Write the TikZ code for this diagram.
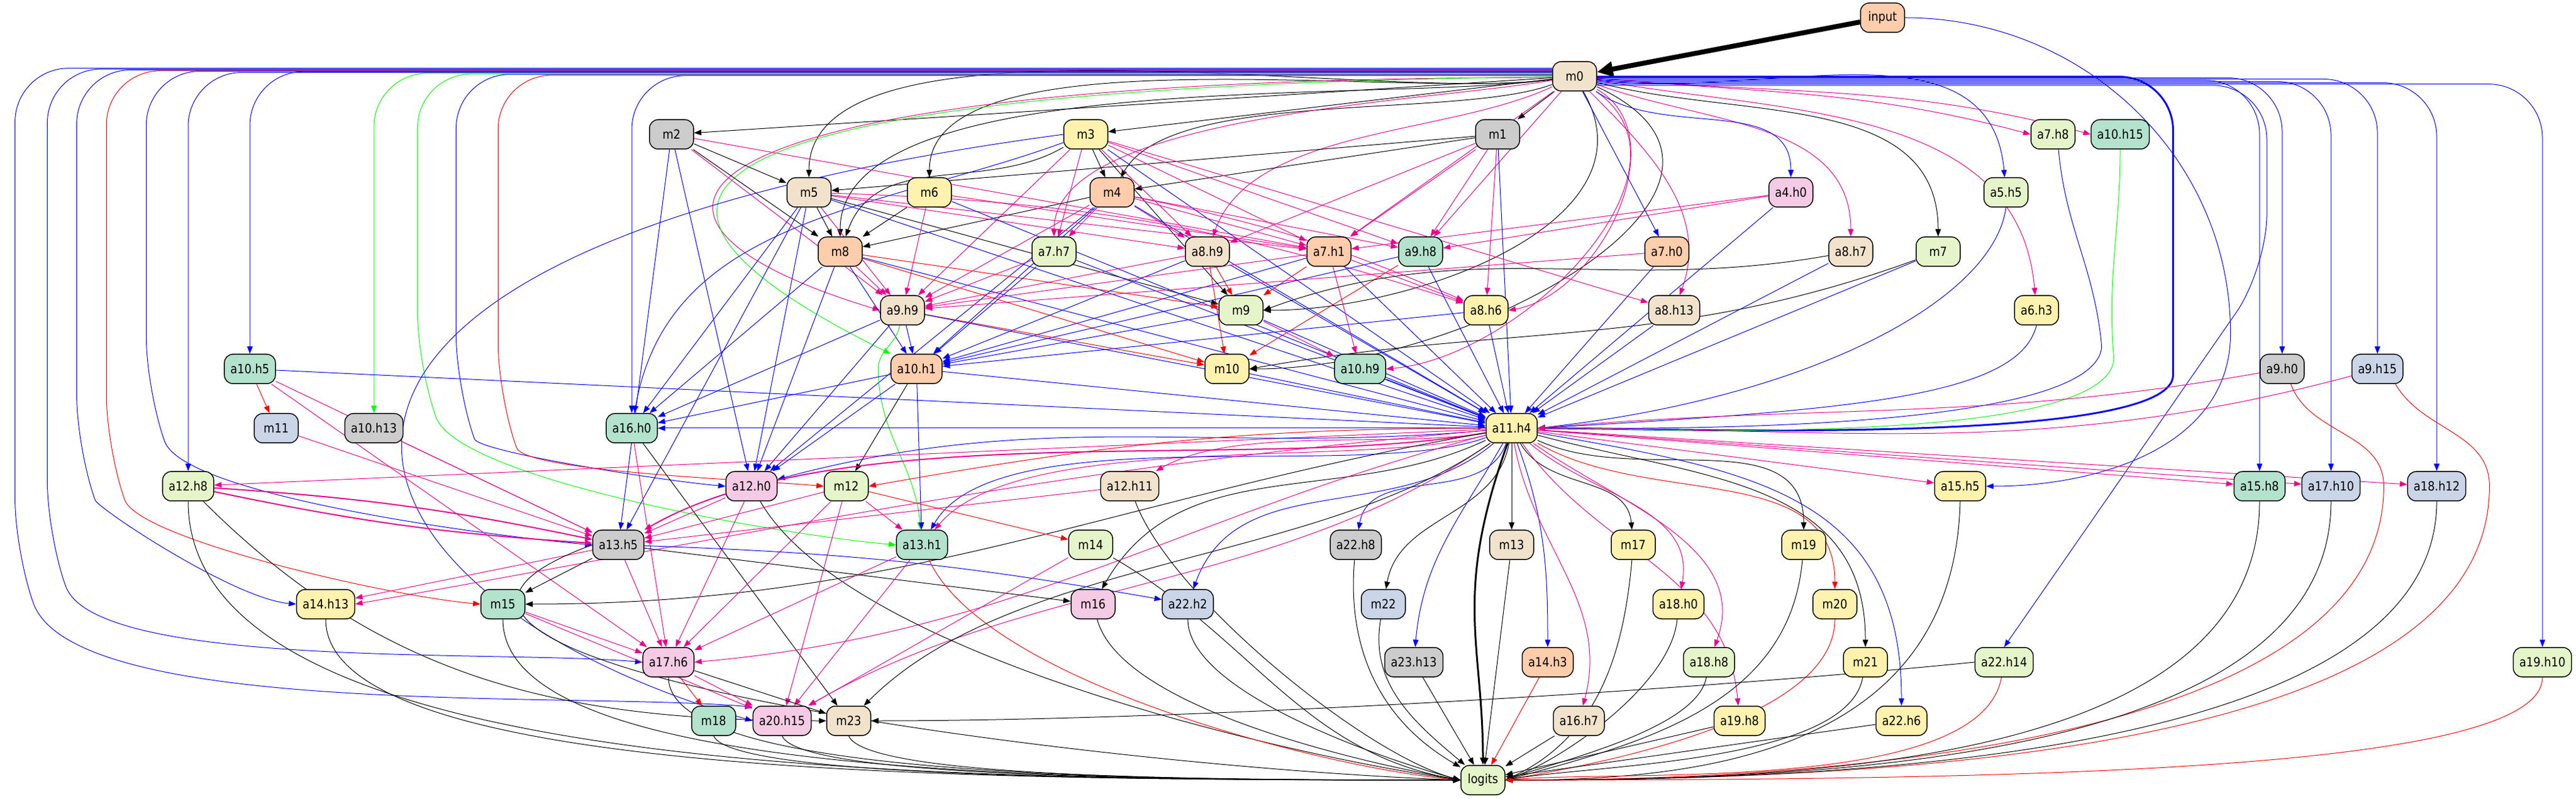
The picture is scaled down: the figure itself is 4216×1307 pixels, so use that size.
\documentclass[tikz,border=0pt]{standalone}
\usepackage{fontspec}
\newfontfamily\nfont{DejaVu Sans}[FakeStretch=0.88]
\usetikzlibrary{arrows.meta,backgrounds}
\definecolor{cmint}{HTML}{B3E2CD}
\definecolor{cpeach}{HTML}{FDCDAC}
\definecolor{cblue}{HTML}{CBD5E8}
\definecolor{cpink}{HTML}{F4CAE4}
\definecolor{cgreen}{HTML}{E6F5C9}
\definecolor{cyel}{HTML}{FFF2AE}
\definecolor{cbeige}{HTML}{F1E2CC}
\definecolor{cgrey}{HTML}{CCCCCC}
\newcommand{\bx}[5]{\node[box,fill=#4] (#1) at (#2,#3) {#5};}
\tikzset{
  box/.style={draw,line width=0.375pt,rounded corners=3.5pt,minimum height=12pt,minimum width=18pt,
    inner xsep=2.5pt,inner ysep=0pt,font=\nfont\fontsize{5.2}{6}\selectfont},
  atip/.style={-{Triangle[length=3pt,width=2.25pt]}},
  eK/.style={atip,draw=black,line width=0.25pt},
  eB/.style={atip,draw=blue,line width=0.25pt},
  eM/.style={atip,draw=magenta,line width=0.25pt},
  eR/.style={atip,draw=red,line width=0.25pt},
  eG/.style={atip,draw=green,line width=0.25pt},
  bnd/.style={rounded corners=22pt},
}
\begin{document}
\begin{tikzpicture}[x=0.25pt,y=0.25pt]
\useasboundingbox (0,0) rectangle (4216,1307);
% rows from top to bottom
\bx{input}{3081}{1278}{cpeach}{input}
\bx{m0}{2577}{1182}{cbeige}{m0}
\bx{m2}{1099}{1087}{cgrey}{m2}      \bx{m3}{1777}{1087}{cyel}{m3}     \bx{m1}{2451}{1087}{cgrey}{m1}
\bx{a7h8}{3360}{1087}{cgreen}{a7.h8} \bx{a10h15}{3470}{1087}{cmint}{a10.h15}
\bx{m5}{1324}{992}{cbeige}{m5}      \bx{m6}{1521}{992}{cyel}{m6}      \bx{m4}{1820}{992}{cpeach}{m4}
\bx{a4h0}{2931}{992}{cpink}{a4.h0}  \bx{a5h5}{3283}{992}{cgreen}{a5.h5}
\bx{m8}{1375}{895}{cpeach}{m8}      \bx{a7h7}{1725}{895}{cgreen}{a7.h7} \bx{a8h9}{1976}{895}{cbeige}{a8.h9}
\bx{a7h1}{2175}{895}{cpeach}{a7.h1} \bx{a9h8}{2325}{895}{cmint}{a9.h8}  \bx{a7h0}{2728}{895}{cpeach}{a7.h0}
\bx{a8h7}{3029}{895}{cbeige}{a8.h7} \bx{m7}{3172}{895}{cgreen}{m7}
\bx{a9h9}{1477}{799}{cbeige}{a9.h9} \bx{m9}{2031}{799}{cgreen}{m9}     \bx{a8h6}{2432}{799}{cyel}{a8.h6}
\bx{a8h13}{2740}{799}{cbeige}{a8.h13} \bx{a6h3}{3333}{799}{cyel}{a6.h3}
\bx{a10h5}{409}{703}{cmint}{a10.h5} \bx{a10h1}{1500}{703}{cpeach}{a10.h1} \bx{m10}{2008}{703}{cyel}{m10}
\bx{a10h9}{2226}{703}{cmint}{a10.h9} \bx{a9h0}{3735}{703}{cgrey}{a9.h0} \bx{a9h15}{3891}{703}{cblue}{a9.h15}
\bx{m11}{452}{606}{cblue}{m11}      \bx{a10h13}{612}{606}{cgrey}{a10.h13} \bx{a16h0}{1034}{606}{cmint}{a16.h0}
\bx{a11h4}{2474}{606}{cyel}{a11.h4}
\bx{a12h8}{308}{511}{cgreen}{a12.h8} \bx{a12h0}{1230}{511}{cpink}{a12.h0} \bx{m12}{1385}{511}{cgreen}{m12}
\bx{a12h11}{1849}{511}{cbeige}{a12.h11} \bx{a15h5}{3208}{511}{cyel}{a15.h5} \bx{a15h8}{3698}{511}{cmint}{a15.h8}
\bx{a17h10}{3815}{511}{cblue}{a17.h10} \bx{a18h12}{3988}{511}{cblue}{a18.h12}
\bx{a13h5}{1012}{415}{cgrey}{a13.h5} \bx{a13h1}{1509}{415}{cmint}{a13.h1} \bx{m14}{1785}{415}{cgreen}{m14}
\bx{a22h8}{2219}{415}{cgrey}{a22.h8} \bx{m13}{2474}{415}{cbeige}{m13}   \bx{m17}{2673}{415}{cyel}{m17}
\bx{m19}{2952}{415}{cyel}{m19}
\bx{a14h13}{533}{318}{cyel}{a14.h13} \bx{m15}{823}{318}{cmint}{m15}    \bx{m16}{1789}{318}{cpink}{m16}
\bx{a22h2}{1944}{318}{cblue}{a22.h2} \bx{m22}{2264}{318}{cblue}{m22}   \bx{a18h0}{2747}{318}{cyel}{a18.h0}
\bx{m20}{3003}{318}{cyel}{m20}
\bx{a17h6}{1094}{223}{cpink}{a17.h6} \bx{a23h13}{2314}{223}{cgrey}{a23.h13} \bx{a14h3}{2533}{223}{cpeach}{a14.h3}
\bx{a18h8}{2797}{223}{cgreen}{a18.h8} \bx{m21}{3053}{223}{cyel}{m21}   \bx{a22h14}{3280}{223}{cgreen}{a22.h14}
\bx{a19h10}{4161}{223}{cgreen}{a19.h10}
\bx{m18}{1168}{127}{cmint}{m18}     \bx{a20h15}{1280}{127}{cpink}{a20.h15} \bx{m23}{1389}{127}{cbeige}{m23}
\bx{a16h7}{2584}{127}{cbeige}{a16.h7} \bx{a19h8}{2847}{127}{cyel}{a19.h8} \bx{a22h6}{3112}{127}{cyel}{a22.h6}
\bx{logits}{2427}{30}{cgreen}{logits}

\begin{scope}[on background layer]
\fill[white] (0,0) rectangle (4216,1307);
% input
\draw[eK,line width=2pt,-{Triangle[length=6.5pt,width=6pt]}] (input) -- (m0);
\draw[eB] (input.east) to[out=0,in=90] ([shift={(400,250)}]a15h5.east) to[out=-90,in=0] (a15h5.east);
% m0 to mlps
\foreach \tg in {m1,m2,m3} \draw[eK] (m0) -- (\tg);
\draw[eK] (m0) to[out=200,in=60,looseness=.6] (m4);
\foreach \tg in {m5,m6,m8} \draw[eK] (m0) to[out=188,in=90,looseness=.6] (\tg.north);
\draw[eK] (m0) to[out=-15,in=90] (m7);
\draw[eK] (m0) to[out=-60,in=0] (m9.east);
\draw[eK] (m0) to[out=-25,in=0,looseness=1.3] (m10.east);
% m0 to heads
\foreach \tg in {a7h8,a10h15} \draw[eM] (m0) to[out=-5,in=165] (\tg.west);
\draw[eM] (m0) to[out=-20,in=90] (a8h7);
\draw[eM] (m0) to[out=-10,in=95] (a6h3);
\draw[eM] (m0) to[out=-30,in=10] (a8h6.east);
\draw[eM] (m0) to[out=-35,in=5] (a10h9.east);
\draw[eM] (m0) to[out=-45,in=70] (a8h13);
\foreach \tg in {a7h1,a9h8} \draw[eM] (m0) -- (\tg);
\draw[eM] (m0) to[out=205,in=70,looseness=.8] (a8h9);
\draw[eM] (m0) to[out=190,in=90,looseness=.6] (a7h7);
\draw[eM] (m0.183) .. controls +(-1500,0) and +(-500,150) .. (a9h9.west);
\draw[eB] (m0) to[out=-35,in=90] (a4h0);
\draw[eB] (m0) to[out=-8,in=95] (a5h5);
\draw[eB] (m0) -- (a7h0);
% m0 right bundle
\foreach \tg/\a in {a9h0/-4,a9h15/-7,a15h8/-10,a17h10/-13,a18h12/-16,a19h10/-19}
  \draw[eB,bnd] (m0.\a) -| (\tg.north);
\draw[eB,line width=.75pt,bnd] (m0.-1) -| ([shift={(1040,175)}]a11h4.east) to[out=-90,in=0,looseness=.5] (a11h4.east);
\draw[eB,bnd] (m0.-22) -| ([shift={(430,620)}]a22h14.north) -- (a22h14.north);
% m0 left bundle
\foreach \tg/\a in {a10h5/168,a12h8/170,a16h0/178} \draw[eB,bnd] (m0.\a) -| (\tg.north);
\draw[eG,bnd] (m0.172) -| (a10h13.north);
\draw[eB,bnd] (m0.160) -| ([shift={(-1207,275)}]a20h15.west) to[out=-70,in=175,looseness=.6] (a20h15.155);
\draw[eB,bnd] (m0.162) -| ([shift={(-974,207)}]a17h6.west) to[out=-70,in=175,looseness=.6] (a17h6.west);
\draw[eB,bnd] (m0.164) -| ([shift={(-359,253)}]a14h13.west) to[out=-70,in=175,looseness=.6] (a14h13.west);
\draw[eR,bnd] (m0.166) -| ([shift={(-612,253)}]m15.west) to[out=-70,in=175,looseness=.6] (m15.west);
\draw[eB,bnd] (m0.167) -| ([shift={(-730,252)}]a13h5.west) to[out=-70,in=175,looseness=.6] (a13h5.west);
\draw[eG,bnd] (m0.174) -| ([shift={(-783,292)}]a13h1.west) to[out=-70,in=175,looseness=.6] (a13h1.west);
\draw[eB,bnd] (m0.175) -| ([shift={(-441,160)}]a12h0.west) to[out=-70,in=175,looseness=.6] (a12h0.west);
\draw[eR,bnd] (m0.177) -| ([shift={(-533,146)}]m12.west) to[out=-70,in=175,looseness=.6] (m12.west);
\draw[eG] (m0.181) .. controls +(-1700,-20) and +(-400,200) .. (a10h1.north west);
% layer 0-6 mlps
\draw[eB] (m1) -- (a11h4);
\foreach \tg in {m4,m5} \draw[eK] (m1) -- (\tg);
\foreach \tg in {a7h1,a9h8,a8h9,a8h6} \draw[eM] (m1) -- (\tg);
\foreach \tg in {m5,m8} \draw[eK] (m2) -- (\tg);
\foreach \tg in {a9h9,a7h1} \draw[eM] (m2) -- (\tg);
\foreach \tg in {a12h0,a13h5} \draw[eB] (m2) -- (\tg);
\foreach \tg in {m4,m9} \draw[eK] (m3) -- (\tg);
\draw[eK] (m3) to[out=210,in=70] (m8);
\foreach \tg in {a7h7,a7h1,a9h8,a8h9,a8h13,a9h9} \draw[eM] (m3) -- (\tg);
\draw[eB] (m3) -- (a11h4);
\draw[eB] (m3) to[out=200,in=80] (a16h0);
\draw[eB] (m3.west) .. controls +(-1500,-200) and +(-700,200) .. (a20h15.west);
\draw[eK] (m4) -- (m8);
\foreach \tg in {a7h7,a8h9,a7h1,a9h8,a9h9} \draw[eM] (m4) -- (\tg);
\draw[eM] (m4) to[bend left=6] (a8h6);
\foreach \tg in {a11h4,a10h1,a12h0} \draw[eB] (m4) -- (\tg);
\foreach \tg in {m8,m9} \draw[eK] (m5) -- (\tg);
\foreach \tg in {a8h9,a9h9,a7h1} \draw[eM] (m5) -- (\tg);
\draw[eM] (m5) to[bend left=8] (a8h6);
\foreach \tg in {a16h0,a12h0,a13h5,a11h4} \draw[eB] (m5) -- (\tg);
\draw[eK] (m6) -- (m8);
\foreach \tg in {a9h9,a7h1} \draw[eM] (m6) -- (\tg);
\draw[eB] (m6) -- (a11h4);
\draw[eK] (m7) to[out=200,in=10] (m10.east);
\draw[eB] (m7) -- (a11h4);
\foreach \tg in {m9,m10} \draw[eR] (m8) -- (\tg);
\draw[eM] (m8) -- (a9h9);
\foreach \tg in {a10h1,a11h4,a12h0,a16h0} \draw[eB] (m8) -- (\tg);
% layer 4-8 heads
\foreach \tg in {a7h1,a9h8} \draw[eM] (a4h0) -- (\tg);
\draw[eB] (a4h0) -- (a11h4);
\draw[eB] (a5h5.south) .. controls +(-20,-150) and +(450,50) .. (a11h4.east);
\draw[eB] (a7h8.-70) to[out=-85,in=95] ([shift={(70,-60)}]a6h3.east) to[out=-95,in=0,looseness=.4] (a11h4.east);
\draw[eG] (a10h15) to[out=-90,in=95] ([shift={(90,-80)}]a6h3.east) to[out=-95,in=0,looseness=.4] (a11h4.east);
\draw[eB] (a6h3.south) .. controls +(-30,-120) and +(500,30) .. (a11h4.east);
\draw[eM] (a7h7) -- (a9h9);
\foreach \tg in {a10h1,a11h4} \draw[eB] (a7h7) -- (\tg);
\draw[eM] (a8h9) -- (a9h9);
\foreach \tg in {m9,m10} \draw[eR] (a8h9) -- (\tg);
\foreach \tg in {a10h1,a11h4} \draw[eB] (a8h9) -- (\tg);
\foreach \tg in {a9h9,a10h9,a8h6} \draw[eM] (a7h1) -- (\tg);
\draw[eR] (a7h1) -- (m9);
\foreach \tg in {a10h1,a11h4} \draw[eB] (a7h1) -- (\tg);
\foreach \tg in {a10h1,a11h4} \draw[eB] (a9h8) -- (\tg);
\draw[eR] (a9h8) -- (m10);
\draw[eM] (a7h0) -- (a9h9);
\draw[eB] (a7h0) -- (a11h4);
\draw[eK] (a8h7) to[out=190,in=20] (m9.east);
\draw[eB] (a8h7) -- (a11h4);
% layer 8-10
\draw[eR] (a9h9) -- (m10);
\foreach \tg in {a10h1,a11h4,a12h0,a16h0} \draw[eB] (a9h9) -- (\tg);
\draw[eG] (a9h9) to[out=-100,in=90] ([xshift=-5pt]a10h1.west) to[out=-90,in=95] (a13h1);
\foreach \tg in {a10h1,a11h4} \draw[eB] (m9) -- (\tg);
\draw[eM] (m9) -- (a10h9);
\foreach \tg in {a11h4,a10h1} \draw[eB] (a8h6) -- (\tg);
\draw[eB] (a8h13) -- (a11h4);
\draw[eR] (a10h5) -- (m11);
\draw[eB] (a10h5) -- (a11h4);
\foreach \tg in {a13h5,a17h6} \draw[eM] (a10h5) -- (\tg);
\draw[eK] (a10h1) -- (m12);
\foreach \tg in {a11h4,a12h0,a16h0,a13h1} \draw[eB] (a10h1) -- (\tg);
\draw[eB] (m10) -- (a11h4);
\draw[eB] (a10h9) -- (a11h4);
\draw[eM] (a9h0) to[out=190,in=5] (a11h4.east);
\draw[eM] (a9h15) to[out=195,in=0] (a11h4.east);
\draw[eR] (a9h0.-60) to[out=-70,in=90] ([xshift=9.5pt]a17h10.east) .. controls +(0,-380) and +(700,0) .. (logits.east);
\draw[eR] (a9h15.-40) to[out=-60,in=90] ([xshift=9.5pt]a18h12.east) .. controls +(0,-400) and +(800,0) .. (logits.east);
\draw[eM] (m11) -- (a13h5);
\draw[eM] (a10h13) -- (a13h5);
\draw[eM] (a16h0) -- (a17h6);
\draw[eK] (a16h0) -- (m23);
% a11.h4
\draw[eB] (a11h4) -- (a16h0);
\draw[eM] (a11h4) -- (a12h8);
\draw[eB] (a11h4) to[out=185,in=15] (a12h0);
\draw[eR] (a11h4) to[out=180,in=10] (m12.east);
\draw[eM] (a11h4) to[out=190,in=30,looseness=.7] (a12h11);
\foreach \tg in {a15h5,a15h8,a17h10,a18h12} \draw[eM] (a11h4) -- (\tg);
\draw[eM,line width=.5pt] (a11h4) to[out=190,in=30,looseness=.7] (a13h5);
\draw[eM] (a11h4) to[out=195,in=50,looseness=.6] (a13h1);
\draw[eB] (a11h4) to[out=200,in=60,looseness=.6] (a13h1);
\draw[eB] (a11h4) to[out=-110,in=80] (a22h8);
\draw[eK] (a11h4) -- (m13);
\draw[eK] (a11h4) to[out=-60,in=95] (m17);
\draw[eK] (a11h4) to[out=-25,in=90] (m19);
\draw[eM] (a11h4) to[out=185,in=10] (a14h13.east);
\draw[eK] (a11h4) to[out=190,in=0] (m15.east);
\draw[eK] (a11h4) to[out=205,in=60] (m16);
\draw[eB] (a11h4) to[out=-140,in=70] (a22h2);
\draw[eK] (a11h4) to[out=-100,in=80] (m22);
\draw[eM] (a11h4) to[out=-40,in=80] (a18h0);
\draw[eR] (a11h4) to[out=-30,in=90] (m20);
\draw[eM] (a11h4) to[out=195,in=5] (a17h6.east);
\draw[eB] (a11h4) to[out=-120,in=85] (a23h13);
\draw[eB] (a11h4) to[out=-70,in=90] (a14h3);
\draw[eM] (a11h4) to[out=-35,in=70] (a18h8);
\draw[eK] (a11h4) to[out=-15,in=90,looseness=1.1] (m21);
\draw[eM] (a11h4) to[out=215,in=30,looseness=.9] (a20h15);
\draw[eK] (a11h4) to[out=215,in=45,looseness=.8] (m23);
\draw[eM] (a11h4) to[out=-80,in=75] (a16h7);
\draw[eM] (a11h4) to[out=-55,in=95] (a19h8);
\draw[eB] (a11h4) to[out=-10,in=90,looseness=1.2] (a22h6);
\draw[eK,line width=.75pt] (a11h4.-105) .. controls +(-90,-250) and +(0,200) .. (logits.north);
% layer 12-13
\draw[eM,line width=.5pt] (a12h8) to[bend left=4] (a13h5);
\draw[eM,line width=.5pt] (a12h8) to[bend right=4] (a13h5);
\draw[eK] (a12h8) to[out=-45,in=180] (m23.west);
\draw[eK] (a12h8.south) .. controls +(0,-450) and +(-900,0) .. (logits.west);
\foreach \tg in {a13h5,a17h6} \draw[eM] (a12h0) -- (\tg);
\draw[eK] (a12h0) to[out=-60,in=172,looseness=.6] (logits.west);
\draw[eR] (m12) -- (m14);
\foreach \tg in {a13h5,a13h1,a17h6,a20h15} \draw[eM] (m12) -- (\tg);
\draw[eM] (a12h11) -- (a13h5);
\draw[eK] (a12h11) to[out=-70,in=165,looseness=.6] (logits.west);
\draw[eK] (a15h5.south) .. controls +(-10,-420) and +(300,0) .. (logits.east);
\foreach \tg in {a15h8,a17h10,a18h12} \draw[eK] (\tg.south) .. controls +(0,-430) and +(500,0) .. (logits.east);
\draw[eM] (a13h5) -- (a14h13);
\foreach \tg in {m15,m16} \draw[eK] (a13h5) -- (\tg);
\draw[eB] (a13h5) to[bend left=4] (a22h2);
\draw[eM] (a13h5) -- (a17h6);
\draw[eK] (a13h5.west) to[out=200,in=178] (logits.west);
\foreach \tg in {a17h6,a20h15} \draw[eM] (a13h1) -- (\tg);
\draw[eR] (a13h1) to[out=-65,in=175,looseness=.6] (logits.west);
\draw[eM] (m14) -- (a20h15);
\draw[eK] (m14) to[out=-30,in=170] (logits.west);
% to logits
\draw[eK] (a22h8) to[out=-95,in=150] (logits);
\draw[eK] (m13) -- (logits);
\draw[eK] (m17) to[out=-95,in=25] (logits.east);
\draw[eK] (m19) to[out=-95,in=15] (logits.east);
\draw[eK] (a14h13.south) .. controls +(0,-260) and +(-800,0) .. (logits.west);
\foreach \tg in {a17h6,a20h15} \draw[eM] (m15) -- (\tg);
\draw[eK] (m15.south) .. controls +(0,-255) and +(-700,0) .. (logits.west);
\draw[eK] (m16) to[out=-75,in=170,looseness=.6] (logits.west);
\draw[eK] (a22h2) to[out=-90,in=165,looseness=.6] (logits.west);
\draw[eK] (m22) to[out=-100,in=140] (logits);
\draw[eK] (a18h0) to[out=-95,in=20,looseness=.7] (logits.east);
\draw[eR] (m20) to[out=-90,in=10,looseness=.7] (logits.east);
\draw[eR] (a17h6) -- (m18);
\draw[eM] (a17h6) -- (a20h15);
\draw[eK] (a17h6) -- (m23);
\draw[eK] (a17h6.south) .. controls +(0,-160) and +(-600,0) .. (logits.west);
\draw[eK] (a23h13) -- (logits);
\draw[eR] (a14h3) -- (logits);
\draw[eK] (a18h8) to[out=-100,in=20,looseness=.6] (logits.east);
\draw[eK] (m21) to[out=-100,in=10,looseness=.6] (logits.east);
\draw[eK] (a22h14.west) .. controls +(-500,-50) and +(500,0) .. (m23.east);
\draw[eR] (a22h14) to[out=-100,in=5,looseness=.6] (logits.east);
\draw[eR] (a19h10.south) .. controls +(0,-150) and +(900,0) .. (logits.east);
\draw[eK] (m18.south) .. controls +(30,-70) and +(-500,0) .. (logits.west);
\draw[eK] (a20h15.south) .. controls +(30,-70) and +(-450,0) .. (logits.west);
\draw[eK] (m23.south) .. controls +(30,-70) and +(-400,0) .. (logits.west);
\foreach \tg in {a16h7,a19h8,a22h6} \draw[eK] (\tg) -- (logits);
\end{scope}
\end{tikzpicture}
\end{document}
